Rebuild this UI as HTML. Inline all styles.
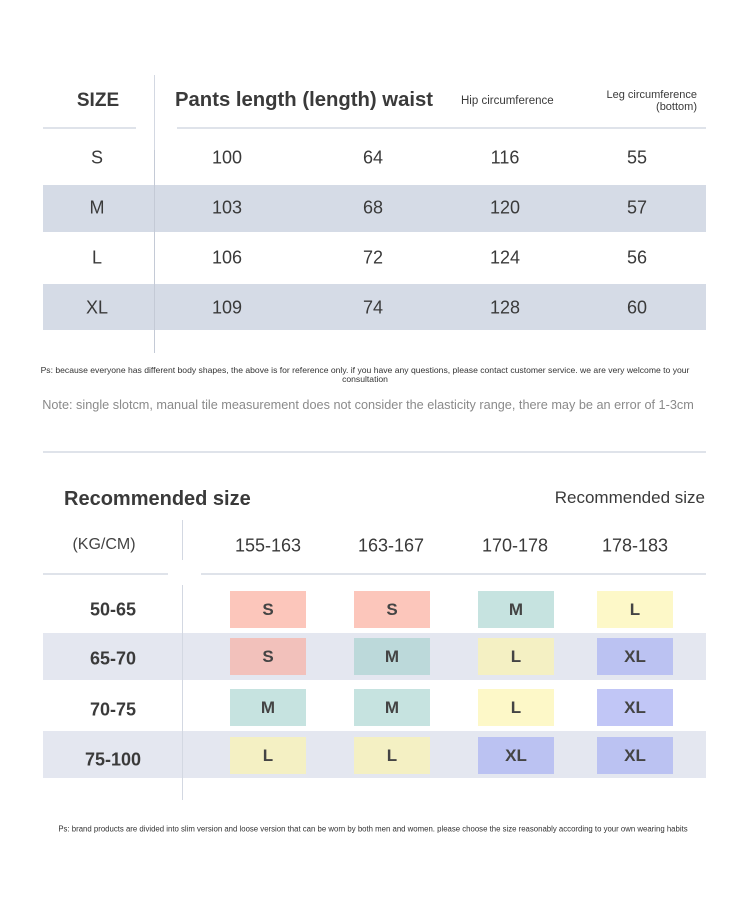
<!DOCTYPE html>
<html><head><meta charset="utf-8"><style>
body{margin:0;width:750px;height:906px;background:#fff;position:relative;overflow:hidden;font-family:"Liberation Sans","DejaVu Sans",sans-serif;color:#3a3a3a}
div{position:absolute}
.c{transform:translate(-50%,-50%);white-space:nowrap}
.n{font-size:18px}
.hl{height:2px;background:#dfe3ea}
.vl{width:1px;background:#d3d8e2}
.bx{width:76px;height:37px;display:flex;align-items:center;justify-content:center;font-size:17px;font-weight:bold;color:#444}
</style></head><body>
<div class="vl" style="left:154px;top:75px;height:90px"></div>
<div style="left:43px;top:185px;width:663px;height:47px;background:#d5dbe6"></div>
<div style="left:43px;top:284px;width:663px;height:46px;background:#d5dbe6"></div>
<div class="vl" style="left:154px;top:150px;height:203px;background:#c4cad6"></div>
<div class="hl" style="left:43px;top:127px;width:93px"></div>
<div class="hl" style="left:177px;top:127px;width:529px"></div>
<div class="c" style="left:98px;top:101px;font-size:19px;font-weight:bold">SIZE</div>
<div style="left:175px;top:89px;font-size:20.3px;font-weight:bold;white-space:nowrap">Pants length (length) waist</div>
<div style="left:461px;top:95px;font-size:11.5px;white-space:nowrap">Hip circumference</div>
<div style="left:560px;top:89px;width:137px;font-size:11px;text-align:right;line-height:12px">Leg circumference<br>(bottom)</div>
<div class="c n" style="left:97px;top:158px">S</div><div class="c n" style="left:227px;top:158px">100</div><div class="c n" style="left:373px;top:158px">64</div><div class="c n" style="left:505px;top:158px">116</div><div class="c n" style="left:637px;top:158px">55</div>
<div class="c n" style="left:97px;top:208px">M</div><div class="c n" style="left:227px;top:208px">103</div><div class="c n" style="left:373px;top:208px">68</div><div class="c n" style="left:505px;top:208px">120</div><div class="c n" style="left:637px;top:208px">57</div>
<div class="c n" style="left:97px;top:258px">L</div><div class="c n" style="left:227px;top:258px">106</div><div class="c n" style="left:373px;top:258px">72</div><div class="c n" style="left:505px;top:258px">124</div><div class="c n" style="left:637px;top:258px">56</div>
<div class="c n" style="left:97px;top:308px">XL</div><div class="c n" style="left:227px;top:308px">109</div><div class="c n" style="left:373px;top:308px">74</div><div class="c n" style="left:505px;top:308px">128</div><div class="c n" style="left:637px;top:308px">60</div>
<div style="left:28px;top:366px;width:674px;text-align:center;font-size:8.6px;line-height:9px;color:#333">Ps: because everyone has different body shapes, the above is for reference only. if you have any questions, please contact customer service. we are very welcome to your consultation</div>
<div class="c" style="left:368px;top:405px;font-size:12.7px;color:#8a8a8a">Note: single slotcm, manual tile measurement does not consider the elasticity range, there may be an error of 1-3cm</div>
<div class="hl" style="left:43px;top:451px;width:663px"></div>
<div style="left:64px;top:488px;font-size:20px;font-weight:bold;white-space:nowrap">Recommended size</div>
<div style="left:505px;top:488px;width:200px;text-align:right;font-size:17px;white-space:nowrap">Recommended size</div>
<div class="c" style="left:104px;top:545px;font-size:16px;color:#444">(KG/CM)</div>
<div class="vl" style="left:182px;top:520px;height:40px"></div>
<div class="c" style="left:268px;top:546px;font-size:18px">155-163</div>
<div class="c" style="left:391px;top:546px;font-size:18px">163-167</div>
<div class="c" style="left:515px;top:546px;font-size:18px">170-178</div>
<div class="c" style="left:635px;top:546px;font-size:18px">178-183</div>
<div class="hl" style="left:43px;top:573px;width:125px"></div>
<div class="hl" style="left:201px;top:573px;width:505px"></div>
<div style="left:43px;top:633px;width:663px;height:47px;background:#e4e7f0"></div>
<div style="left:43px;top:731px;width:663px;height:47px;background:#e4e7f0"></div>
<div class="vl" style="left:182px;top:585px;height:215px"></div>
<div class="c" style="left:113px;top:610px;font-size:18px;font-weight:bold">50-65</div>
<div class="c" style="left:113px;top:659px;font-size:18px;font-weight:bold">65-70</div>
<div class="c" style="left:113px;top:710px;font-size:18px;font-weight:bold">70-75</div>
<div class="c" style="left:113px;top:760px;font-size:18px;font-weight:bold">75-100</div>
<div class="bx" style="left:230px;top:591px;background:#fcc6bb">S</div>
<div class="bx" style="left:354px;top:591px;background:#fcc6bb">S</div>
<div class="bx" style="left:478px;top:591px;background:#c6e3e0">M</div>
<div class="bx" style="left:597px;top:591px;background:#fdf8c8">L</div>
<div class="bx" style="left:230px;top:638px;background:#f2c1bb">S</div>
<div class="bx" style="left:354px;top:638px;background:#bcd9da">M</div>
<div class="bx" style="left:478px;top:638px;background:#f4f0c3">L</div>
<div class="bx" style="left:597px;top:638px;background:#bbc2f2">XL</div>
<div class="bx" style="left:230px;top:689px;background:#c6e3e0">M</div>
<div class="bx" style="left:354px;top:689px;background:#c6e3e0">M</div>
<div class="bx" style="left:478px;top:689px;background:#fdf8c8">L</div>
<div class="bx" style="left:597px;top:689px;background:#c1c6f6">XL</div>
<div class="bx" style="left:230px;top:737px;background:#f4f0c3">L</div>
<div class="bx" style="left:354px;top:737px;background:#f4f0c3">L</div>
<div class="bx" style="left:478px;top:737px;background:#bbc2f2">XL</div>
<div class="bx" style="left:597px;top:737px;background:#bbc2f2">XL</div>
<div class="c" style="left:373px;top:829px;font-size:7.8px;color:#333">Ps: brand products are divided into slim version and loose version that can be worn by both men and women. please choose the size reasonably according to your own wearing habits</div>
</body></html>
